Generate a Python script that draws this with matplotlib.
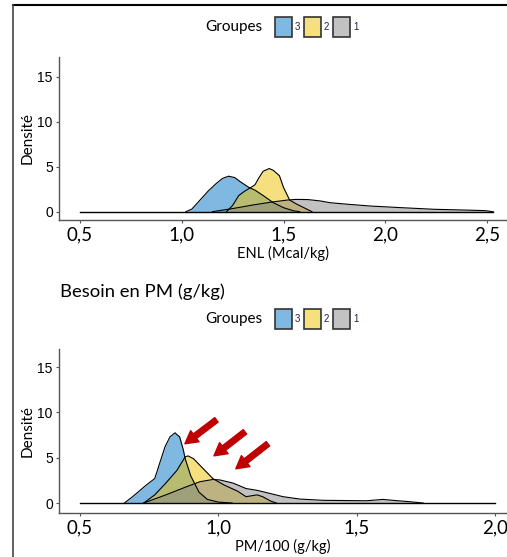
import matplotlib
matplotlib.use("Agg")
import matplotlib.pyplot as plt
from matplotlib.patches import Rectangle
from matplotlib.lines import Line2D

# couleurs (palette JCO, alpha 0.5)
col_3 = '#0073C2'
col_2 = '#EFC000'
col_1 = '#868686'

# --- ENL (Mcal/kg) : densités
enl_x3 = [1.02, 1.05, 1.09, 1.13, 1.17, 1.20, 1.23, 1.26, 1.29, 1.33, 1.36, 1.40, 1.45, 1.50, 1.55, 1.58]
enl_y3 = [0.0, 0.3, 1.3, 2.3, 3.15, 3.7, 3.95, 3.8, 3.3, 2.7, 2.4, 1.8, 1.0, 0.45, 0.1, 0.0]
enl_x2 = [1.22, 1.25, 1.28, 1.31, 1.34, 1.36, 1.38, 1.40, 1.43, 1.45, 1.48, 1.50, 1.53, 1.56, 1.60, 1.64]
enl_y2 = [0.0, 0.7, 1.8, 2.3, 2.7, 3.0, 3.8, 4.5, 4.8, 4.6, 4.0, 2.7, 1.3, 0.9, 0.45, 0.0]
enl_x1 = [1.15, 1.25, 1.35, 1.45, 1.52, 1.56, 1.62, 1.68, 1.73, 1.82, 1.93, 2.08, 2.24, 2.40, 2.49, 2.53]
enl_y1 = [0.0, 0.35, 0.75, 1.1, 1.3, 1.37, 1.35, 1.2, 1.0, 0.82, 0.63, 0.45, 0.27, 0.18, 0.12, 0.0]
enl_range = [0.5, 2.53]
enl_ticks = [0.5, 1.0, 1.5, 2.0, 2.5]

# --- PM/100 (g/kg)
pm_x3 = [0.66, 0.69, 0.74, 0.77, 0.79, 0.807, 0.825, 0.843, 0.86, 0.873, 0.88, 0.90, 0.93, 0.96, 1.00, 1.05]
pm_y3 = [0.0, 0.7, 2.0, 2.7, 4.6, 6.2, 7.3, 7.75, 7.3, 5.9, 4.9, 3.0, 1.2, 0.4, 0.1, 0.0]
pm_x2 = [0.73, 0.77, 0.81, 0.85, 0.88, 0.89, 0.91, 0.945, 0.98, 1.02, 1.07, 1.10, 1.14, 1.16, 1.19, 1.21]
pm_y2 = [0.0, 0.9, 2.2, 3.6, 5.1, 5.2, 4.9, 3.8, 2.7, 2.0, 1.3, 0.7, 0.9, 0.7, 0.2, 0.0]
pm_x1 = [0.73, 0.81, 0.885, 0.933, 0.98, 1.005, 1.053, 1.10, 1.14, 1.174, 1.234, 1.294, 1.378, 1.535, 1.595, 1.63, 1.69, 1.74]
pm_y1 = [0.0, 0.9, 1.8, 2.35, 2.6, 2.55, 2.2, 1.6, 1.4, 1.15, 0.7, 0.44, 0.3, 0.25, 0.4, 0.3, 0.15, 0.0]
pm_range = [0.5, 2.0]
pm_ticks = [0.5, 1.0, 1.5, 2.0]

y_ticks = [0, 5, 10, 15]
groupes = ['3', '2', '1']
couleurs = [col_3, col_2, col_1]

# flèches rouges (queue -> pointe), coordonnées du panneau PM
fleches = [((0.993, 9.18), (0.879, 6.54)),
           ((1.096, 7.86), (0.984, 5.21)),
           ((1.179, 6.54), (1.063, 3.78))]

W, H = 507, 557
fig = plt.figure(figsize=(W / 100, H / 100), dpi=100)
calibri = ['Lato', 'DejaVu Sans']
arial = ['Liberation Sans', 'DejaVu Sans']


def px(x0, y0, x1, y1):
    # rectangle en pixels (haut-gauche) -> coordonnées figure
    return [x0 / W, 1 - y1 / H, (x1 - x0) / W, (y1 - y0) / H]


def panneau(rect, series, rng, ticks, xlim, ylim, xlabel):
    ax = fig.add_axes(rect)
    for (xs, ys), c in zip(series, couleurs):
        ax.fill_between(xs, ys, 0, color=c, alpha=0.5, linewidth=0)
        ax.plot(xs, ys, color='black', linewidth=0.8)
    ax.plot(rng, [0, 0], color='black', linewidth=1.0)
    ax.set_xlim(*xlim)
    ax.set_ylim(*ylim)
    ax.set_xticks(ticks)
    ax.set_xticklabels([f'{t:.1f}'.replace('.', ',') for t in ticks], family=calibri, fontsize=13.5)
    ax.set_yticks(y_ticks)
    ax.set_yticklabels([str(t) for t in y_ticks], family=arial, fontsize=10)
    for s in ['top', 'right']:
        ax.spines[s].set_visible(False)
    for s in ['left', 'bottom']:
        ax.spines[s].set_color('#555555')
        ax.spines[s].set_linewidth(1.0)
    ax.tick_params(length=2.5, width=0.8, color='#555555', pad=2)
    ax.set_xlabel(xlabel, family=calibri, fontsize=10.5, labelpad=2)
    ax.set_ylabel('Densité', family=calibri, fontsize=11, labelpad=0)
    ax.yaxis.set_label_coords(-24 / 448, 0.5)
    return ax


ax1 = panneau(px(59, 57, 507, 220),
              [(enl_x3, enl_y3), (enl_x2, enl_y2), (enl_x1, enl_y1)],
              enl_range, enl_ticks, (0.397, 2.598), (-0.92, 17.2), 'ENL (Mcal/kg)')
ax2 = panneau(px(59, 349, 507, 513),
              [(pm_x3, pm_y3), (pm_x2, pm_y2), (pm_x1, pm_y1)],
              pm_range, pm_ticks, (0.424, 2.043), (-1.1, 17.0), 'PM/100 (g/kg)')

for tail, head in fleches:
    ax2.annotate('', xy=head, xytext=tail,
                 arrowprops=dict(arrowstyle='simple,head_length=0.9,head_width=1.0,tail_width=0.4',
                                 color='#C00000', mutation_scale=10, shrinkA=0, shrinkB=0))

# légendes "Groupes"
def legende(yc):
    fig.text(262 / W, 1 - yc / H, 'Groupes', family=calibri, fontsize=11,
             ha='right', va='center')
    for i, (g, c) in enumerate(zip(groupes, couleurs)):
        x0 = 275 + i * 29
        r = Rectangle((x0 / W, 1 - (yc + 10) / H), 17 / W, 20 / H, transform=fig.transFigure,
                      facecolor=c, alpha=0.5, edgecolor='none')
        fig.patches.append(r)
        fig.patches.append(Rectangle((x0 / W, 1 - (yc + 10) / H), 17 / W, 20 / H,
                                     transform=fig.transFigure, facecolor='none',
                                     edgecolor='#333333', linewidth=1.2))
        fig.text((x0 + 20) / W, 1 - yc / H, g, family=arial, fontsize=7,
                 ha='left', va='center', color='#222244')


legende(27)
legende(319)

fig.text(60 / W, 1 - 292 / H, 'Besoin en PM (g/kg)', family=calibri, fontsize=13.3,
         ha='left', va='center')

# cadre
fig.add_artist(Line2D([13 / W, 1], [1 - 5 / H, 1 - 5 / H], color='black', linewidth=1.5,
                      transform=fig.transFigure))
fig.add_artist(Line2D([13 / W, 13 / W], [0, 1 - 5 / H], color='#444444', linewidth=1.2,
                      transform=fig.transFigure))

fig.savefig('out.png', dpi=100)
